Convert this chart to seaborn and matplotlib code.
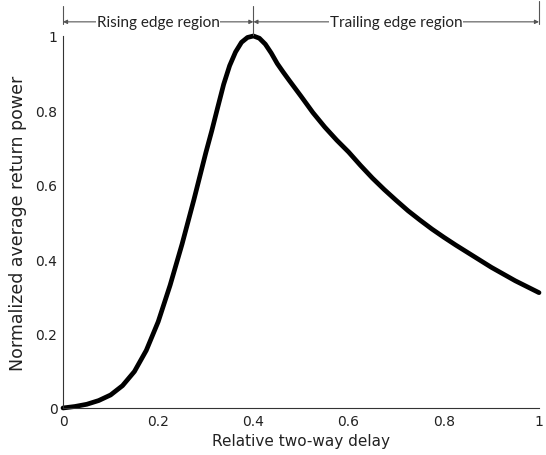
import numpy as np
import pandas as pd
import matplotlib
matplotlib.use("Agg")
import matplotlib.pyplot as plt
from matplotlib.ticker import FormatStrFormatter
import seaborn as sns

# Normalized waveform: relative two-way delay vs. average return power
delay = [0.0, 0.025, 0.05, 0.075, 0.1, 0.125, 0.15, 0.175, 0.2, 0.225,
         0.25, 0.275, 0.3, 0.3125, 0.325, 0.3375, 0.35, 0.3625, 0.375, 0.3875,
         0.4, 0.4125, 0.425, 0.4375, 0.45, 0.4625, 0.475, 0.5, 0.525, 0.55,
         0.575, 0.6, 0.625, 0.65, 0.675, 0.7, 0.725, 0.75, 0.775, 0.8,
         0.825, 0.85, 0.875, 0.9, 0.925, 0.95, 0.975, 1.0]
power = [0.0, 0.004, 0.010, 0.020, 0.035, 0.060, 0.098, 0.155, 0.232, 0.330,
         0.440, 0.560, 0.686, 0.745, 0.808, 0.870, 0.920, 0.957, 0.983, 0.996,
         1.0, 0.994, 0.978, 0.954, 0.926, 0.903, 0.881, 0.838, 0.794, 0.755,
         0.720, 0.688, 0.652, 0.618, 0.587, 0.558, 0.530, 0.505, 0.481, 0.459,
         0.438, 0.418, 0.398, 0.378, 0.360, 0.342, 0.326, 0.310]

ticks = [0, 0.2, 0.4, 0.6, 0.8, 1]
regions = [("Rising edge region", 0.0, 0.4), ("Trailing edge region", 0.4, 1.0)]

df = pd.DataFrame({"delay": delay, "power": power})

sns.set_style("white")
plt.rcParams["font.family"] = ["DejaVu Sans"]

fig = plt.figure(figsize=(5.46, 4.56), dpi=100)
ax = fig.add_axes([0.1154, 0.1031, 0.8718, 0.8158])

sns.lineplot(data=df, x="delay", y="power", ax=ax, color="black",
             linewidth=3.4, clip_on=False)
ax.lines[0].set_solid_joinstyle("round")
ax.lines[0].set_solid_capstyle("round")

ax.set_xlim(0, 1)
ax.set_ylim(0, 1)
ax.set_xticks(ticks)
ax.set_yticks(ticks)
ax.xaxis.set_major_formatter(FormatStrFormatter("%g"))
ax.yaxis.set_major_formatter(FormatStrFormatter("%g"))
ax.tick_params(direction="in", length=4, width=0.8, colors="#333333",
               labelsize=10, labelcolor="#222222", pad=4)
for side in ("top", "right"):
    ax.spines[side].set_visible(False)
for side in ("left", "bottom"):
    ax.spines[side].set_color("#333333")
    ax.spines[side].set_linewidth(0.8)

ax.set_xlabel("Relative two-way delay", fontsize=11, color="#222222", labelpad=4)
ax.set_ylabel("Normalized average return power", fontsize=12.5, color="#222222",
              labelpad=6)

# Region markers above the plot area
guide = "#555555"
ax.plot([0, 0], [1.032, 1.081], color=guide, lw=0.8, clip_on=False)
ax.plot([0.4, 0.4], [1.003, 1.081], color=guide, lw=0.8, clip_on=False)
ax.plot([1.0, 1.0], [1.032, 1.094], color=guide, lw=0.8, clip_on=False)
for label, x0, x1 in regions:
    ax.annotate("", xy=(x0, 1.038), xytext=(x1, 1.038), xycoords="data",
                arrowprops=dict(arrowstyle="<|-|>", color=guide, lw=0.8,
                                mutation_scale=6, shrinkA=0, shrinkB=0),
                annotation_clip=False)
    ax.text((x0 + x1) / 2, 1.038, label, ha="center", va="center",
            fontsize=11, family="Lato", color="#222222",
            bbox=dict(facecolor="white", edgecolor="none", pad=0.5),
            clip_on=False)

fig.savefig("out.png", dpi=100, facecolor="white")
